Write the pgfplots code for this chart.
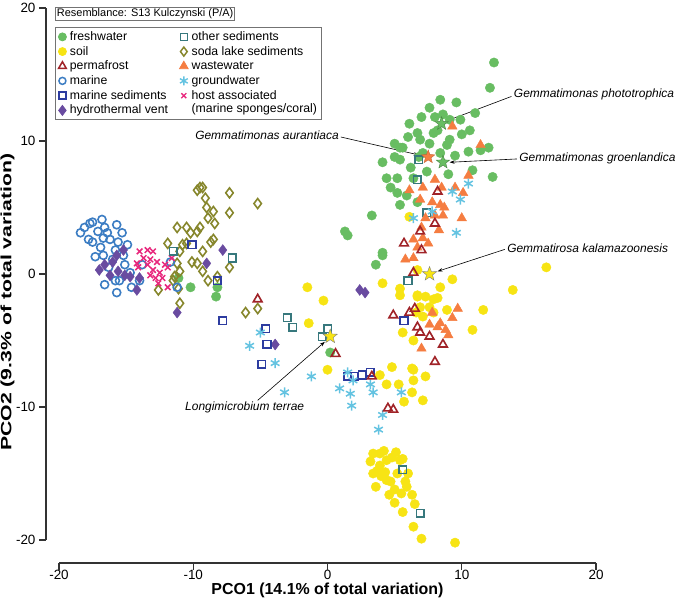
\documentclass[border=0pt]{standalone}
\usepackage{pgfplots}
\pgfplotsset{compat=1.18}
\usepackage{fontspec}
\setmainfont{Liberation Sans}
\usetikzlibrary{arrows.meta}
\definecolor{cfw}{RGB}{104,189,98}
\definecolor{csoil}{RGB}{247,228,20}
\definecolor{cperm}{RGB}{160,35,40}
\definecolor{cmar}{RGB}{60,125,195}
\definecolor{cmsed}{RGB}{45,60,160}
\definecolor{chyd}{RGB}{105,75,160}
\definecolor{cosed}{RGB}{55,120,125}
\definecolor{csoda}{RGB}{135,135,45}
\definecolor{cwaste}{RGB}{245,125,65}
\definecolor{cgw}{RGB}{100,195,225}
\definecolor{chost}{RGB}{232,40,125}
\pgfdeclareplotmark{fivestar}{%
  \pgfpathmoveto{\pgfpointpolar{90}{\pgfplotmarksize}}%
  \pgfpathlineto{\pgfpointpolar{126}{0.42\pgfplotmarksize}}%
  \pgfpathlineto{\pgfpointpolar{162}{\pgfplotmarksize}}%
  \pgfpathlineto{\pgfpointpolar{198}{0.42\pgfplotmarksize}}%
  \pgfpathlineto{\pgfpointpolar{234}{\pgfplotmarksize}}%
  \pgfpathlineto{\pgfpointpolar{270}{0.42\pgfplotmarksize}}%
  \pgfpathlineto{\pgfpointpolar{306}{\pgfplotmarksize}}%
  \pgfpathlineto{\pgfpointpolar{342}{0.42\pgfplotmarksize}}%
  \pgfpathlineto{\pgfpointpolar{18}{\pgfplotmarksize}}%
  \pgfpathlineto{\pgfpointpolar{54}{0.42\pgfplotmarksize}}%
  \pgfpathclose
  \pgfusepathqfillstroke
}
\begin{document}
\begin{tikzpicture}
\begin{axis}[
  scale only axis, width=537bp, height=532bp,
  xmin=-20, xmax=20, ymin=-20, ymax=20,
  axis line style={draw=none},
  major tick length=0bp,
  tick pos=left,
  xtick={-20,-10,0,10,20}, ytick={-20,-10,0,10,20},
  xticklabel shift=27bp, yticklabel shift=20bp,
  ticklabel style={font=\fontsize{13.5}{15}\selectfont},
  /pgf/number format/assume math mode=true,
  clip=false,
  xlabel={PCO1 (14.1\% of total variation)},
  ylabel={PCO2 (9.3\% of total variation)},
  xlabel style={font=\bfseries\fontsize{16}{18}\selectfont, at={(axis description cs:0.5,-0.094)}, anchor=center},
  ylabel style={font=\bfseries\fontsize{15}{17}\selectfont, at={(axis description cs:-0.096,0.447)}, anchor=center, xscale=1.42},
  legend columns=2,
  legend cell align=left,
  legend style={at={(-0.0074,0.964)}, anchor=north west, draw=black!55, line width=0.8bp,
    font=\fontsize{12.3}{13}\selectfont, inner xsep=3bp, inner ysep=2bp,
    nodes={inner xsep=1.5bp, inner ysep=1.9bp, text depth=0.2em},
    /tikz/every odd column/.append style={column sep=2bp},
    /tikz/every even column/.append style={column sep=10bp}},
  legend image code/.code={\draw[#1] plot coordinates {(0bp,0bp)};},
]
% legend entries
\addlegendimage{only marks, mark=*, mark size=4bp, color=cfw}
\addlegendentry{freshwater}
\addlegendimage{only marks, mark=square, mark size=3.5bp, color=cosed, mark options={line width=1.5bp}}
\addlegendentry{other sediments}
\addlegendimage{only marks, mark=*, mark size=4bp, color=csoil}
\addlegendentry{soil}
\addlegendimage{only marks, mark=diamond, mark size=4.5bp, color=csoda, mark options={line width=1.5bp}}
\addlegendentry{soda lake sediments}
\addlegendimage{only marks, mark=triangle, mark size=4.5bp, color=cperm, mark options={line width=1.5bp}}
\addlegendentry{permafrost}
\addlegendimage{only marks, mark=triangle*, mark size=5bp, color=cwaste}
\addlegendentry{wastewater}
\addlegendimage{only marks, mark=o, mark size=3.5bp, color=cmar, mark options={line width=1.5bp}}
\addlegendentry{marine}
\addlegendimage{only marks, mark=asterisk, mark size=4.5bp, color=cgw, mark options={line width=1.4bp}}
\addlegendentry{groundwater}
\addlegendimage{only marks, mark=square, mark size=3.5bp, color=cmsed, mark options={line width=1.5bp}}
\addlegendentry{marine sediments}
\addlegendimage{only marks, mark=x, mark size=3.5bp, color=chost, mark options={line width=1.4bp}}
\addlegendentry{\begin{tabular}[t]{@{}l@{}}host associated\\(marine sponges/coral)\end{tabular}}
\addlegendimage{only marks, mark=diamond*, mark size=5bp, color=chyd}
\addlegendentry{hydrothermal vent}

% freshwater
\addplot[forget plot, only marks, mark=*, mark size=4.7bp, color=cfw] coordinates {
(12.4,15.9) (12.1,14.0) (9.6,12.9) (7.6,12.5) (8.0,11.8) (8.6,12.0) (9.1,11.6) (6.1,11.3)
(9.9,11.6) (10.6,10.8) (12.0,9.5) (10.5,9.2) (8.9,9.7) (7.9,10.6) (7.6,9.8) (6.9,10.1)
(6.0,10.3) (5.0,9.8) (5.4,9.5) (7.1,9.1) (11.4,9.3) (10.8,7.8) (12.3,7.3) (4.1,8.4)
(5.0,8.8) (5.4,8.6) (4.4,7.2) (5.2,7.2) (4.7,6.5) (5.2,6.1) (5.9,5.9) (4.1,1.6)
(6.4,7.2) (5.6,9.5) (6.7,10.6) (8.2,10.8) (9.1,10.1) (3.3,4.4) (1.3,3.2) (1.5,2.9)
(4.1,1.4) (5.4,5.2) (6.7,5.4) (8.4,13.1) (7.0,11.8) (8.4,9.1) (9.5,8.9) (6.2,8.0)
(6.8,8.8) (11.0,12.1) (10.0,10.5) (7.4,7.7) (9.0,7.5) (3.6,0.7)
(-10.2,-1.0) (-8.3,-1.7) (-8.2,-1.0) (-11.1,-0.3) (0.2,-5.9)
};
% soil
\addplot[forget plot, only marks, mark=*, mark size=4.7bp, color=csoil] coordinates {
(16.3,0.5) (13.8,-1.2) (11.6,-2.7) (10.8,-4.2) (-1.5,-1.0) (-0.3,-2.0) (-1.4,-3.7)
(4.1,-0.7) (5.4,-1.1) (6.1,4.3) (6.7,0.3) (8.4,-1.0) (6.7,-1.7) (7.3,-1.7) (7.9,-1.9)
(8.2,-1.8) (6.9,-2.5) (7.6,-2.5) (8.9,-2.7) (7.1,-3.2) (0.0,-7.2) (3.9,-7.6) (4.8,-7.0)
(6.3,-7.1) (7.3,-7.7) (4.4,-8.3) (5.3,-8.3) (6.4,-8.0) (6.3,-8.9) (7.1,-9.5) (5.7,-9.6)
(5.4,-1.6) (6.7,-1.6) (6.6,-2.9) (7.9,-2.9) (5.6,-4.4) (6.4,-5.0) (6.4,-7.2) (9.3,-0.4)
(3.4,-13.5) (3.9,-13.5) (3.2,-14.1) (3.9,-14.4) (4.4,-14.0) (5.4,-14.0) (3.4,-15.0)
(4.3,-14.9) (5.2,-15.0) (5.6,-13.9) (5.8,-15.6) (6.3,-16.6) (5.5,-16.5) (6.5,-17.3)
(5.6,-17.9) (6.4,-19.0) (7.0,-19.9) (9.5,-20.2) (4.7,-15.6) (5.0,-17.2) (4.4,-15.5)
(4.0,-15.2) (4.8,-13.8) (3.7,-14.8) (6.0,-15.0) (5.9,-16.0) (5.0,-16.2) (4.6,-16.6)
(3.6,-16.0) (4.2,-13.3) (5.1,-13.4)
};
% soda lake sediments
\addplot[forget plot, only marks, mark=diamond, mark size=5bp, color=csoda, mark options={line width=1.6bp}] coordinates {
(-9.5,6.5) (-9.7,6.3) (-9.3,6.5) (-7.3,6.1) (-5.2,5.3) (-9.1,5.7) (-9.0,5.0) (-8.5,4.7)
(-7.3,4.6) (-8.9,4.2) (-8.4,3.8) (-9.5,3.5) (-11.2,3.5) (-10.5,3.5) (-10.2,3.1) (-9.7,3.2)
(-11.9,2.3) (-11.0,1.7) (-10.8,2.2) (-8.7,2.4) (-9.3,1.7) (-10.1,0.9) (-9.7,0.8) (-11.2,0.8)
(-11.0,0.2) (-9.3,0.2) (-8.9,-0.5) (-8.2,-0.2) (-7.3,0.5) (-11.5,-0.5) (-12.6,-1.2)
(-11.1,-1.1) (-11.0,-2.2) (-6.1,-2.9) (-5.2,-2.6) (-11.4,-0.2) (-8.5,2.6) (-10.5,2.3)
};
% marine
\addplot[forget plot, only marks, mark=o, mark size=4bp, color=cmar, mark options={line width=1.6bp}] coordinates {
(-18.4,3.1) (-17.7,3.8) (-17.5,3.9) (-16.8,4.1) (-16.6,3.5) (-15.7,3.7) (-15.3,3.1)
(-17.1,3.2) (-17.5,2.4) (-16.7,2.7) (-16.2,2.6) (-15.6,2.4) (-17.3,1.3) (-16.7,1.4)
(-16.0,1.1) (-15.8,-0.5) (-15.5,-0.5) (-14.6,-1.0) (-15.7,-1.4) (-14.7,0.1) (-13.8,0.7)
(-11.7,0.9) (-11.2,-1.0) (-18.1,3.5) (-16.4,3.1) (-16.9,2.0) (-15.8,1.8) (-15.2,1.4)
(-17.8,2.6) (-14.9,2.2) (-16.3,0.5) (-15.1,0.7) (-16.6,-0.8) (-14.0,-0.5)
};
% host associated
\addplot[forget plot, only marks, mark=x, mark size=4bp, color=chost, mark options={line width=1.5bp}] coordinates {
(-14.0,1.7) (-13.4,1.8) (-13.0,1.7) (-13.7,1.2) (-13.2,1.1) (-12.7,0.9) (-14.1,0.5)
(-13.0,0.3) (-12.5,0.1) (-12.8,-0.3) (-12.3,-0.3) (-11.9,-1.0) (-11.6,1.2) (-12.1,0.7)
(-14.2,0.8) (-13.4,0.7) (-13.2,-0.1) (-12.6,-0.7) (-11.9,0.5)
};
% hydrothermal vent
\addplot[forget plot, only marks, mark=diamond*, mark size=5.5bp, color=chyd] coordinates {
(-15.2,1.8) (-15.7,1.4) (-16.6,0.7) (-16.2,-0.1) (-15.6,0.2) (-15.1,-0.1) (-14.7,-0.2)
(-14.0,-0.3) (-14.2,-1.2) (-7.8,1.8) (-9.0,0.8) (-11.2,-2.9) (2.4,-1.2) (2.8,-1.4)
(-3.9,-5.3) (-17.0,0.3) (-16.0,0.9)
};
% marine sediments
\addplot[forget plot, only marks, mark=square, mark size=3.8bp, color=cmsed, mark options={line width=1.6bp}] coordinates {
(-10.1,2.2) (-8.2,-0.5) (-7.8,-3.5) (-4.6,-4.1) (-4.5,-5.3) (-4.9,-6.8) (1.5,-7.7)
(2.0,-7.7) (2.6,-7.6) (3.2,-7.4) (5.7,-3.5)
};
% other sediments
\addplot[forget plot, only marks, mark=square, mark size=3.8bp, color=cosed, mark options={line width=1.6bp}] coordinates {
(-11.5,1.7) (-7.1,1.2) (-3.0,-3.3) (-2.6,-4.0) (0.0,-4.1) (-0.4,-4.7) (6.8,8.6)
(6.7,7.1) (7.4,4.6) (6.0,-0.5) (5.6,-14.7) (6.9,-18.0)
};
% wastewater
\addplot[forget plot, only marks, mark=triangle*, mark size=5.5bp, color=cwaste] coordinates {
(9.3,11.1) (11.4,9.7) (8.0,7.1) (6.1,6.3) (7.1,6.5) (8.5,6.5) (9.5,6.5) (10.1,6.1)
(10.5,7.4) (6.9,5.6) (7.8,5.4) (8.4,5.2) (8.7,5.0) (8.0,4.4) (8.6,4.4) (10.0,4.2)
(6.4,2.6) (7.1,2.7) (7.5,2.3) (6.7,2.0) (5.8,1.1) (6.4,1.2) (7.8,-2.9) (9.7,-2.6)
(9.3,-3.3) (7.6,-3.8) (8.2,-4.0) (8.8,-4.2) (9.0,-4.6) (7.0,-5.6) (8.4,-3.7)
(7.3,4.2) (7.0,3.5) (8.3,3.3)
};
% groundwater
\addplot[forget plot, only marks, mark=asterisk, mark size=5bp, color=cgw, mark options={line width=1.5bp}] coordinates {
(-5.0,-4.4) (-5.8,-5.4) (-3.9,-6.7) (-3.2,-8.9) (-1.2,-7.7) (1.5,-7.4) (1.9,-8.0)
(0.9,-8.6) (1.7,-9.0) (1.8,-9.9) (3.2,-8.3) (3.4,-8.9) (5.5,-8.9) (4.1,-10.6)
(3.8,-11.7) (10.5,6.8) (9.3,6.2) (9.9,5.6) (7.8,4.7) (6.4,4.2) (9.6,3.1)
};
% permafrost
\addplot[forget plot, only marks, mark=triangle, mark size=5bp, color=cperm, mark options={line width=1.6bp}] coordinates {
(-5.2,-1.9) (0.6,-6.0) (3.3,-7.7) (4.5,-10.1) (4.9,-10.2) (4.9,-3.1) (6.1,-2.9)
(6.5,-2.6) (6.7,-4.0) (6.9,-4.4) (7.6,-4.7) (8.6,-5.3) (8.0,-6.6) (8.2,6.2) (8.0,3.8)
(6.9,3.2) (5.7,2.3) (7.0,1.8) (6.4,0.1)
};
% type strains (stars)
\addplot[forget plot, only marks, mark=fivestar, mark size=7bp, mark options={fill=cfw, draw=cfw!70!black, line width=0.4bp}] coordinates {(8.5,11.3) (8.6,8.4)};
\addplot[forget plot, only marks, mark=fivestar, mark size=7bp, mark options={fill=cwaste, draw=cwaste!80!black, line width=0.4bp}] coordinates {(7.5,8.8)};
\addplot[forget plot, only marks, mark=fivestar, mark size=7.5bp, mark options={fill=csoil, draw=black!50, line width=0.4bp}] coordinates {(7.6,0.0) (0.2,-4.7)};

% axis lines (offset from the data region)
\draw[line width=1.2bp, black!80] (axis cs:-20.97,-20) -- (axis cs:-20.97,20);
\draw[line width=1.2bp, black!80] (axis cs:-20,-21.73) -- (axis cs:20,-21.73);
\draw[line width=1.2bp, black!80] (axis cs:-20.97,-20) -- (axis cs:-21.5,-20);
\draw[line width=1.2bp, black!80] (axis cs:-20.97,-10) -- (axis cs:-21.5,-10);
\draw[line width=1.2bp, black!80] (axis cs:-20.97,0) -- (axis cs:-21.5,0);
\draw[line width=1.2bp, black!80] (axis cs:-20.97,10) -- (axis cs:-21.5,10);
\draw[line width=1.2bp, black!80] (axis cs:-20.97,20) -- (axis cs:-21.5,20);
\draw[line width=1.2bp, black!80] (axis cs:-20,-21.73) -- (axis cs:-20,-22.26);
\draw[line width=1.2bp, black!80] (axis cs:-10,-21.73) -- (axis cs:-10,-22.26);
\draw[line width=1.2bp, black!80] (axis cs:0,-21.73) -- (axis cs:0,-22.26);
\draw[line width=1.2bp, black!80] (axis cs:10,-21.73) -- (axis cs:10,-22.26);
\draw[line width=1.2bp, black!80] (axis cs:20,-21.73) -- (axis cs:20,-22.26);

% resemblance box
\node[draw=black!55, line width=0.8bp, anchor=north west, inner sep=1.5bp, fill=white,
  font=\fontsize{11}{12}\selectfont] at (axis description cs:-0.0074,1.002) {Resemblance: S13 Kulczynski (P/A)};

% annotations
\node[anchor=west, font=\itshape\fontsize{12}{14}\selectfont, inner sep=1bp] at (axis cs:13.8,13.5) {Gemmatimonas phototrophica};
\draw[-{Stealth[length=5bp,width=3.5bp]}, line width=0.6bp] (axis cs:13.7,13.35) -- (axis cs:8.85,11.5);
\node[anchor=east, font=\itshape\fontsize{12}{14}\selectfont, inner sep=1bp] at (axis cs:0.93,10.45) {Gemmatimonas aurantiaca};
\draw[-{Stealth[length=5bp,width=3.5bp]}, line width=0.6bp] (axis cs:1.0,10.3) -- (axis cs:6.8,8.95);
\node[anchor=west, font=\itshape\fontsize{12}{14}\selectfont, inner sep=1bp] at (axis cs:14.2,8.7) {Gemmatimonas groenlandica};
\draw[-{Stealth[length=5bp,width=3.5bp]}, line width=0.6bp] (axis cs:14.1,8.65) -- (axis cs:9.1,8.4);
\node[anchor=west, font=\itshape\fontsize{12}{14}\selectfont, inner sep=1bp] at (axis cs:13.3,1.95) {Gemmatirosa kalamazoonesis};
\draw[-{Stealth[length=5bp,width=3.5bp]}, line width=0.6bp] (axis cs:13.2,1.85) -- (axis cs:8.2,0.2);
\node[anchor=east, font=\itshape\fontsize{12}{14}\selectfont, inner sep=1bp] at (axis cs:-1.65,-10.0) {Longimicrobium terrae};
\draw[-{Stealth[length=5bp,width=3.5bp]}, line width=0.6bp] (axis cs:-5.2,-9.5) -- (axis cs:-0.2,-5.1);
\end{axis}
\pgfresetboundingbox
\useasboundingbox (-59bp,-62bp) rectangle (623bp,540bp);
\end{tikzpicture}
\end{document}
